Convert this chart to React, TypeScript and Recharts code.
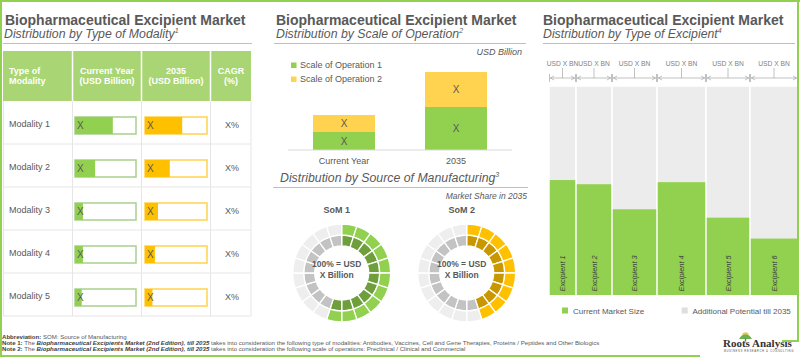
import React from 'react';
import {
  BarChart,
  Bar,
  XAxis,
  YAxis,
  LabelList,
  PieChart,
  Pie,
  Cell,
  ComposedChart,
  Line,
  ReferenceArea,
} from 'recharts';

// ---- data ----
const modalities = ['Modality 1', 'Modality 2', 'Modality 3', 'Modality 4', 'Modality 5'];
const currentYearValues = [6.2, 3.3, 1.3, 1.3, 1.1];
const year2035Values = [6.0, 4.0, 2.1, 1.6, 1.2];
const cagrLabels = ['X%', 'X%', 'X%', 'X%', 'X%'];

const operationPeriods = ['Current Year', '2035'];
const scaleOfOperation1 = [1.8, 4.3];
const scaleOfOperation2 = [1.7, 3.5];

const somNames = ['SoM 1', 'SoM 2'];
const somShare2035 = [55, 45];
const ringSegments = 20;

const excipients = ['Excipient 1', 'Excipient 2', 'Excipient 3', 'Excipient 4', 'Excipient 5', 'Excipient 6'];
const excipientMarketWidth = [27, 36, 45, 49, 44, 48];
const excipientCurrentShare = [55, 53, 41, 54, 37, 27];
const excipientValueLabels = ['USD X BN', 'USD X BN', 'USD X BN', 'USD X BN', 'USD X BN', 'USD X BN'];

const GREEN = '#92d050';
const GOLD = '#ffc000';
const TEXT = '#595959';
const FONT = '"Liberation Sans", Arial, sans-serif';

// ---- table bars ----
function TableBars({ values, fill, stroke, left, ml, mr }: any) {
  const data = modalities.map((m, i) => ({ name: m, value: values[i] }));
  return (
    <div style={{ position: 'absolute', left, top: 104 }}>
      <BarChart width={69} height={215} data={data} layout="vertical" margin={{ top: 0, right: mr, bottom: 0, left: ml }}>
        <XAxis type="number" domain={[0, 10]} hide />
        <YAxis type="category" dataKey="name" hide />
        <Bar
          dataKey="value"
          fill={fill}
          barSize={17}
          isAnimationActive={false}
          background={{ fill: '#fff', stroke, strokeWidth: 1.5 }}
        >
          <LabelList dataKey="value" position="insideLeft" offset={2} formatter={() => 'X'} fill={TEXT} fontSize={10} />
        </Bar>
      </BarChart>
    </div>
  );
}

// ---- excipient (marimekko) shapes ----
function GrayColumn(p: any) {
  const { x, y, width, height, valueLabel } = p;
  const cx = x + width / 2;
  const ay = y - 8;
  const c = '#a6a6a6';
  return (
    <g>
      <rect x={x} y={y} width={width} height={height} fill="#ececec" stroke="#fff" strokeWidth={1.5} />
      <text x={cx} y={y - 20} textAnchor="middle" fontSize={6.7} fill="#7f7f7f" fontFamily={FONT}>
        {valueLabel}
      </text>
      <line x1={cx} x2={cx} y1={y - 18} y2={ay} stroke={c} strokeWidth={0.7} />
      <line x1={x + 1} x2={x + width - 1} y1={ay} y2={ay} stroke={c} strokeWidth={0.7} />
      <line x1={x + 0.5} x2={x + 0.5} y1={ay - 4} y2={ay + 4} stroke={c} strokeWidth={0.7} />
      <line x1={x + width - 0.5} x2={x + width - 0.5} y1={ay - 4} y2={ay + 4} stroke={c} strokeWidth={0.7} />
      <path d={`M${x + 5},${ay - 2} L${x + 1.5},${ay} L${x + 5},${ay + 2}`} fill="none" stroke={c} strokeWidth={0.7} />
      <path
        d={`M${x + width - 5},${ay - 2} L${x + width - 1.5},${ay} L${x + width - 5},${ay + 2}`}
        fill="none"
        stroke={c}
        strokeWidth={0.7}
      />
    </g>
  );
}

function GreenColumn(p: any) {
  const { x, y, width, height, name } = p;
  const tx = x + width / 2 + 2.7;
  const ty = y + height - 3.5;
  return (
    <g>
      <rect x={x + 0.75} y={y} width={width - 1.5} height={height} fill={GREEN} />
      <text
        x={tx}
        y={ty}
        transform={`rotate(-90, ${tx}, ${ty})`}
        fontSize={7.4}
        fontStyle="italic"
        fill="#404040"
        fontFamily={FONT}
      >
        {name}
      </text>
    </g>
  );
}

function Sup({ children }: any) {
  return (
    <tspan dy={-5} fontSize={7}>
      {children}
    </tspan>
  );
}

export default function App() {
  const operationData = operationPeriods.map((p, i) => ({
    name: p,
    s1: scaleOfOperation1[i],
    s2: scaleOfOperation2[i],
  }));

  const ringData = somShare2035.map((share) =>
    Array.from({ length: ringSegments }, (_, i) => ({ name: `seg${i}`, value: 1, on: i < (share / 100) * ringSegments }))
  );
  const ringColors = [
    { outer: GREEN, inner: '#6e9f3c' },
    { outer: GOLD, inner: '#c99700' },
  ];
  const ringCx = [66.7, 191.7];

  let acc = 0;
  const columns = excipients.map((name, i) => {
    const start = acc;
    acc += excipientMarketWidth[i];
    return { name, start, end: acc, mid: (start + acc) / 2, share: excipientCurrentShare[i], label: excipientValueLabels[i] };
  });
  const totalWidth = acc;

  const rowTops = [101, 144, 187, 230, 273];

  return (
    <div
      style={{
        position: 'absolute',
        left: 0,
        top: 0,
        width: 800,
        height: 357,
        background: '#fff',
        overflow: 'hidden',
        fontFamily: FONT,
      }}
    >
      {/* table bars */}
      <TableBars values={currentYearValues} fill={GREEN} stroke="#a9d18e" left={72} ml={3} mr={5} />
      <TableBars values={year2035Values} fill={GOLD} stroke="#ffd24d" left={141} ml={4} mr={3} />

      {/* scale of operation */}
      <div style={{ position: 'absolute', left: 270, top: 60 }}>
        <BarChart width={260} height={115} data={operationData} margin={{ top: 10, right: 18, bottom: 0, left: 18 }}>
          <XAxis
            dataKey="name"
            axisLine={{ stroke: '#d9d9d9' }}
            tickLine={false}
            tick={{ fontSize: 9, fill: TEXT, fontFamily: FONT }}
            height={25}
          />
          <YAxis domain={[0, 8]} hide />
          <Bar dataKey="s1" stackId="a" fill={GREEN} barSize={62} isAnimationActive={false}>
            <LabelList dataKey="s1" position="center" formatter={() => 'X'} fill={TEXT} fontSize={10} />
          </Bar>
          <Bar dataKey="s2" stackId="a" fill="#ffd34f" barSize={62} isAnimationActive={false}>
            <LabelList dataKey="s2" position="center" formatter={() => 'X'} fill={TEXT} fontSize={10} />
          </Bar>
        </BarChart>
      </div>

      {/* source of manufacturing rings */}
      <div style={{ position: 'absolute', left: 270, top: 214 }}>
        <PieChart width={260} height={110}>
          {ringData.map((segs, k) => (
            <Pie
              key={`in${k}`}
              data={segs}
              dataKey="value"
              cx={ringCx[k]}
              cy={54}
              innerRadius={27}
              outerRadius={38}
              startAngle={90}
              endAngle={-270}
              stroke="#fff"
              strokeWidth={1.3}
              isAnimationActive={false}
            >
              {segs.map((s, i) => (
                <Cell key={i} fill={s.on ? ringColors[k].inner : '#c3c3c3'} />
              ))}
            </Pie>
          ))}
          {ringData.map((segs, k) => (
            <Pie
              key={`out${k}`}
              data={segs}
              dataKey="value"
              cx={ringCx[k]}
              cy={54}
              innerRadius={38}
              outerRadius={49}
              startAngle={90}
              endAngle={-270}
              stroke="#fff"
              strokeWidth={1.3}
              isAnimationActive={false}
            >
              {segs.map((s, i) => (
                <Cell key={i} fill={s.on ? ringColors[k].outer : '#eeeeee'} />
              ))}
            </Pie>
          ))}
        </PieChart>
      </div>

      {/* type of excipient */}
      <div style={{ position: 'absolute', left: 530, top: 50 }}>
        <ComposedChart width={270} height={260} data={columns} margin={{ top: 36, right: 2, bottom: 15, left: 19 }}>
          <XAxis type="number" dataKey="mid" domain={[0, totalWidth]} hide />
          <YAxis type="number" domain={[0, 100]} hide />
          <Line dataKey="share" stroke="none" dot={false} isAnimationActive={false} />
          {columns.map((c) => (
            <ReferenceArea
              key={`g${c.name}`}
              x1={c.start}
              x2={c.end}
              y1={0}
              y2={100}
              shape={(p: any) => <GrayColumn {...p} valueLabel={c.label} />}
            />
          ))}
          {columns.map((c) => (
            <ReferenceArea
              key={`c${c.name}`}
              x1={c.start}
              x2={c.end}
              y1={0}
              y2={c.share}
              shape={(p: any) => <GreenColumn {...p} name={c.name} />}
            />
          ))}
        </ComposedChart>
      </div>

      {/* static text, table grid, frame */}
      <svg width={800} height={357} style={{ position: 'absolute', left: 0, top: 0, pointerEvents: 'none' }} fontFamily={FONT}>
        {/* titles */}
        <text x={5} y={25} fontSize={14} fontWeight="bold" fill={TEXT}>Biopharmaceutical Excipient Market</text>
        <text x={4} y={38} fontSize={12.3} fontStyle="italic" fill={TEXT}>
          Distribution by Type of Modality<Sup>1</Sup>
        </text>
        <line x1={3} x2={252} y1={43.5} y2={43.5} stroke="#bfbfbf" />

        <text x={276} y={25} fontSize={14} fontWeight="bold" fill={TEXT}>Biopharmaceutical Excipient Market</text>
        <text x={276} y={38} fontSize={12.3} fontStyle="italic" fill={TEXT}>
          Distribution by Scale of Operation<Sup>2</Sup>
        </text>
        <line x1={274} x2={526} y1={43.5} y2={43.5} stroke="#bfbfbf" />

        <text x={543} y={25} fontSize={14} fontWeight="bold" fill={TEXT}>Biopharmaceutical Excipient Market</text>
        <text x={543} y={38} fontSize={12.3} fontStyle="italic" fill={TEXT}>
          Distribution by Type of Excipient<Sup>4</Sup>
        </text>
        <line x1={543} x2={795} y1={43.5} y2={43.5} stroke="#bfbfbf" />

        {/* table header */}
        <rect x={3} y={51} width={248} height={50} fill="#a9d574" />
        {[72.5, 141.5, 210.5].map((x) => (
          <line key={x} x1={x} x2={x} y1={51} y2={101} stroke="#fff" strokeWidth={1.5} />
        ))}
        <g fill="#fff" fontWeight="bold" fontSize={9}>
          <text x={9} y={74}>Type of</text>
          <text x={9} y={84}>Modality</text>
          <text x={107} y={74} textAnchor="middle">Current Year</text>
          <text x={107} y={84} textAnchor="middle">(USD Billion)</text>
          <text x={176} y={74} textAnchor="middle">2035</text>
          <text x={176} y={84} textAnchor="middle">(USD Billion)</text>
          <text x={231} y={74} textAnchor="middle">CAGR</text>
          <text x={231} y={84} textAnchor="middle">(%)</text>
        </g>
        {/* table grid */}
        {rowTops.map((t) => (
          <line key={t} x1={3} x2={251} y1={t + 43} y2={t + 43} stroke="#e6e6e6" />
        ))}
        {[3.5, 72.5, 141.5, 210.5, 251].map((x) => (
          <line key={x} x1={x} x2={x} y1={101} y2={316} stroke="#e6e6e6" />
        ))}
        {modalities.map((m, i) => (
          <text key={m} x={9} y={rowTops[i] + 25.5} fontSize={9} fill={TEXT}>{m}</text>
        ))}
        {cagrLabels.map((c, i) => (
          <text key={i} x={232} y={rowTops[i] + 27} fontSize={9} fill={TEXT} textAnchor="middle">{c}</text>
        ))}

        {/* scale of operation legend */}
        <text x={522} y={55} fontSize={9} fontStyle="italic" fill={TEXT} textAnchor="end">USD Billion</text>
        <rect x={291} y={62.5} width={5.5} height={5.5} fill={GREEN} />
        <text x={300} y={68} fontSize={9} fill={TEXT}>Scale of Operation 1</text>
        <rect x={291} y={76.5} width={5.5} height={5.5} fill="#ffd34f" />
        <text x={300} y={82} fontSize={9} fill={TEXT}>Scale of Operation 2</text>

        {/* source of manufacturing */}
        <text x={280} y={181.5} fontSize={12.3} fontStyle="italic" fill={TEXT}>
          Distribution by Source of Manufacturing<Sup>3</Sup>
        </text>
        <line x1={273} x2={528} y1={187.5} y2={187.5} stroke="#bfbfbf" />
        <text x={527} y={199} fontSize={8.5} fontStyle="italic" fill={TEXT} textAnchor="end">Market Share in 2035</text>
        {somNames.map((n, k) => (
          <g key={n} fontWeight="bold" fill={TEXT} textAnchor="middle">
            <text x={270 + ringCx[k]} y={213} fontSize={9}>{n}</text>
            <text x={270 + ringCx[k]} y={266.7} fontSize={8.5}>100% = USD</text>
            <text x={270 + ringCx[k]} y={278.3} fontSize={8.5}>X Billion</text>
          </g>
        ))}

        {/* excipient legend */}
        <rect x={562} y={307.5} width={6} height={6} fill={GREEN} />
        <text x={573} y={314} fontSize={8} fill={TEXT}>Current Market Size</text>
        <rect x={681.7} y={307.5} width={6} height={6} fill="#dedede" />
        <text x={692.5} y={314} fontSize={8} fill={TEXT}>Additional Potential till 2035</text>

        {/* footnotes */}
        <g fontSize={6.1} fill={TEXT}>
          <text x={2} y={339}>
            <tspan fontWeight="bold" fill="#404040">Abbreviation: </tspan>SOM: Source of Manufacturing
          </text>
          <text x={2} y={345}>
            <tspan fontWeight="bold" fill="#404040">Note 1: </tspan>The{' '}
            <tspan fontWeight="bold" fontStyle="italic" fill="#404040">Biopharmaceutical Excipients Market (2nd Edition), till 2035</tspan>{' '}
            takes into consideration the following type of modalities: Antibodies, Vaccines, Cell and Gene Therapies, Proteins / Peptides and Other Biologics
          </text>
          <text x={2} y={351}>
            <tspan fontWeight="bold" fill="#404040">Note 2: </tspan>The{' '}
            <tspan fontWeight="bold" fontStyle="italic" fill="#404040">Biopharmaceutical Excipients Market (2nd Edition), till 2035</tspan>{' '}
            takes into consideration the following scale of operations: Preclinical / Clinical and Commercial
          </text>
        </g>

        {/* logo */}
        <path d="M739,339 Q745.5,329 752,339 Z" fill="#6ab04c" />
        <path d="M741.5,334.5 Q745.5,330 749.5,334.5 Z" fill="#e8c84a" />
        <rect x={744.8} y={338.5} width={1.4} height={3} fill="#8a6d3b" />
        <text x={723} y={346.5} fontSize={11} fontFamily='"Liberation Serif", serif' fontWeight="bold" fill="#333">Roots Analysis</text>
        <text x={724} y={351.5} fontSize={2.8} fill="#555" letterSpacing={0.6}>BUSINESS RESEARCH &amp; CONSULTING</text>

        {/* frame */}
        <g stroke={GREEN} strokeWidth={2} fill="none">
          <line x1={1} x2={1} y1={0} y2={357} />
          <line x1={0} x2={800} y1={1} y2={1} />
          <line x1={798} x2={798} y1={0} y2={341} />
          <line x1={782} x2={799} y1={341} y2={341} />
          <line x1={0} x2={700} y1={356} y2={356} />
        </g>
      </svg>
    </div>
  );
}
